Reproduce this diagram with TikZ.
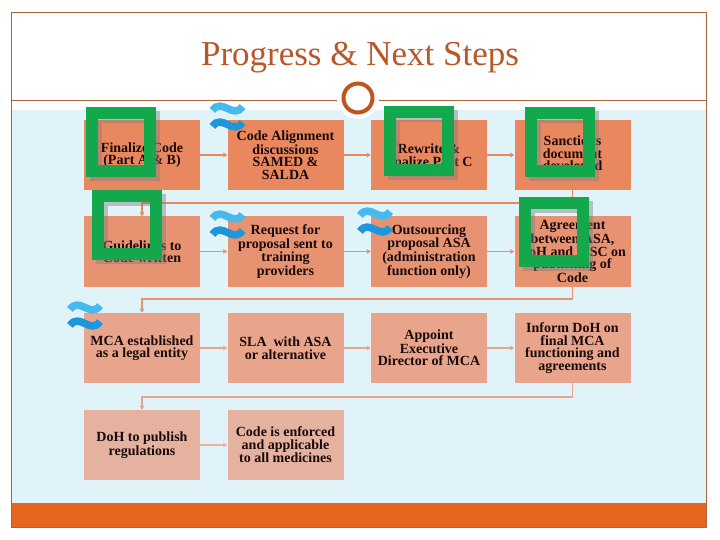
\documentclass[tikz,border=0pt]{standalone}
\usepackage{fontspec}
\setmainfont{Liberation Serif}
\usetikzlibrary{arrows.meta}
\definecolor{rowA}{RGB}{233,135,95}
\definecolor{rowB}{RGB}{231,146,112}
\definecolor{rowC}{RGB}{233,165,140}
\definecolor{rowD}{RGB}{229,178,160}
\definecolor{bgblue}{RGB}{223,243,248}
\definecolor{framec}{RGB}{170,100,60}
\definecolor{titlec}{RGB}{184,88,40}
\definecolor{circc}{RGB}{190,85,30}
\definecolor{barc}{RGB}{232,101,30}
\definecolor{greenc}{RGB}{20,168,76}
\definecolor{wavetop}{RGB}{70,185,238}
\definecolor{wavebot}{RGB}{30,150,220}
\definecolor{txtc}{RGB}{25,10,10}
\tikzset{
  box/.style={rectangle, minimum width=116pt, minimum height=70pt, inner sep=0pt,
    align=center, text=txtc, font=\bfseries\fontsize{14}{12.5}\selectfont},
  conn/.style={line width=1.6pt, -{Triangle[length=4pt,width=4.5pt]}},
  ring/.style={draw=greenc, line width=12pt},
  ringshadow/.style={draw=gray, line width=12pt, opacity=0.45},
  wave/.style={line width=7.5pt}
}
\newcommand{\greensq}[2]{%
  \draw[ringshadow] ({#1+10},{#2+10}) rectangle ({#1+68},{#2+68});
  \draw[ring] ({#1+6},{#2+6}) rectangle ({#1+64},{#2+64});
}
\newcommand{\wavesym}[2]{%
  \draw[wave, wavetop] ({#1-15},{#2-5.5}) .. controls ({#1-6},{#2-19}) and ({#1+6},{#2+4}) .. ({#1+15},{#2-9.5});
  \draw[wave, wavebot] ({#1-15},{#2+10.5}) .. controls ({#1-6},{#2-3}) and ({#1+6},{#2+20}) .. ({#1+15},{#2+6.5});
}
\begin{document}
\begin{tikzpicture}[x=1pt,y=-1pt]
\useasboundingbox (0,0) rectangle (720,540);
\fill[white] (0,0) rectangle (720,540);
% background areas
\fill[bgblue] (11,110) rectangle (706,503);
\fill[barc] (11,503) rectangle (706,527);
\draw[framec, line width=0.8pt] (11,12) rectangle (706,527);
\draw[framec, line width=0.8pt] (11,100) -- (706,100);
% title
\node[text=titlec, font=\fontsize{35}{35}\selectfont, anchor=base] (title) at (360,66) {Progress \& Next Steps};
% circle
\fill[white] (358,98) circle (21);
\draw[circc, line width=4pt] (358,98) circle (14.5);

% boxes
\node[box, fill=rowA] (a1) at (142,155) {Finalize Code\\(Part A \& B)};
\node[box, fill=rowA] (a2) at (285.5,155) {Code Alignment\\discussions\\SAMED \&\\SALDA};
\node[box, fill=rowA] (a3) at (429,155) {Rewrite \&\\finalize Part C};
\node[box, fill=rowA] (a4) at (572.5,155) {Sanctions\\document\\developed};

\node[box, fill=rowB] (b1) at (142,251.5) {Guidelines to\\Code written};
\node[box, fill=rowB] (b2) at (285.5,251.5) {Request for\\proposal sent to\\training\\providers};
\node[box, fill=rowB] (b3) at (429,251.5) {Outsourcing\\proposal ASA\\(administration\\function only)};
\node[box, fill=rowB] (b4) at (572.5,251.5) {Agreement\\between ASA,\\DoH and MSC on\\publishing of\\Code};

\node[box, fill=rowC] (c1) at (142,348) {MCA established\\as a legal entity};
\node[box, fill=rowC] (c2) at (285.5,348) {SLA\ \ with ASA\\or alternative};
\node[box, fill=rowC] (c3) at (429,348) {Appoint\\Executive\\Director of MCA};
\node[box, fill=rowC] (c4) at (572.5,348) {Inform DoH on\\final MCA\\functioning and\\agreements};

\node[box, fill=rowD] (d1) at (142,445) {DoH to publish\\regulations};
\node[box, fill=rowD] (d2) at (285.5,445) {Code is enforced\\and applicable\\to all medicines};

% connectors
\draw[conn, rowA] (a1) -- (a2);
\draw[conn, rowA] (a2) -- (a3);
\draw[conn, rowA] (a3) -- (a4);
\coordinate (ta) at (572.5,203);
\coordinate (tb) at (142,203);
\draw[conn, rowA] (a4.south) -- (ta) -- (tb) -- (b1.north);

\draw[conn, rowB] (b1) -- (b2);
\draw[conn, rowB] (b2) -- (b3);
\draw[conn, rowB] (b3) -- (b4);
\coordinate (tc) at (572.5,299);
\coordinate (td) at (142,299);
\draw[conn, rowB] (b4.south) -- (tc) -- (td) -- (c1.north);

\draw[conn, rowC] (c1) -- (c2);
\draw[conn, rowC] (c2) -- (c3);
\draw[conn, rowC] (c3) -- (c4);
\coordinate (te) at (572.5,397);
\coordinate (tf) at (142,397);
\draw[conn, rowC] (c4.south) -- (te) -- (tf) -- (d1.north);

\draw[conn, rowD] (d1) -- (d2);

% green squares
\greensq{86}{107}
\greensq{384}{106}
\greensq{525}{107}
\greensq{92}{190}
\greensq{519}{197}

% waves
\wavesym{227.5}{116}
\wavesym{227.5}{224}
\wavesym{375}{221}
\wavesym{85}{315}
\end{tikzpicture}
\end{document}
